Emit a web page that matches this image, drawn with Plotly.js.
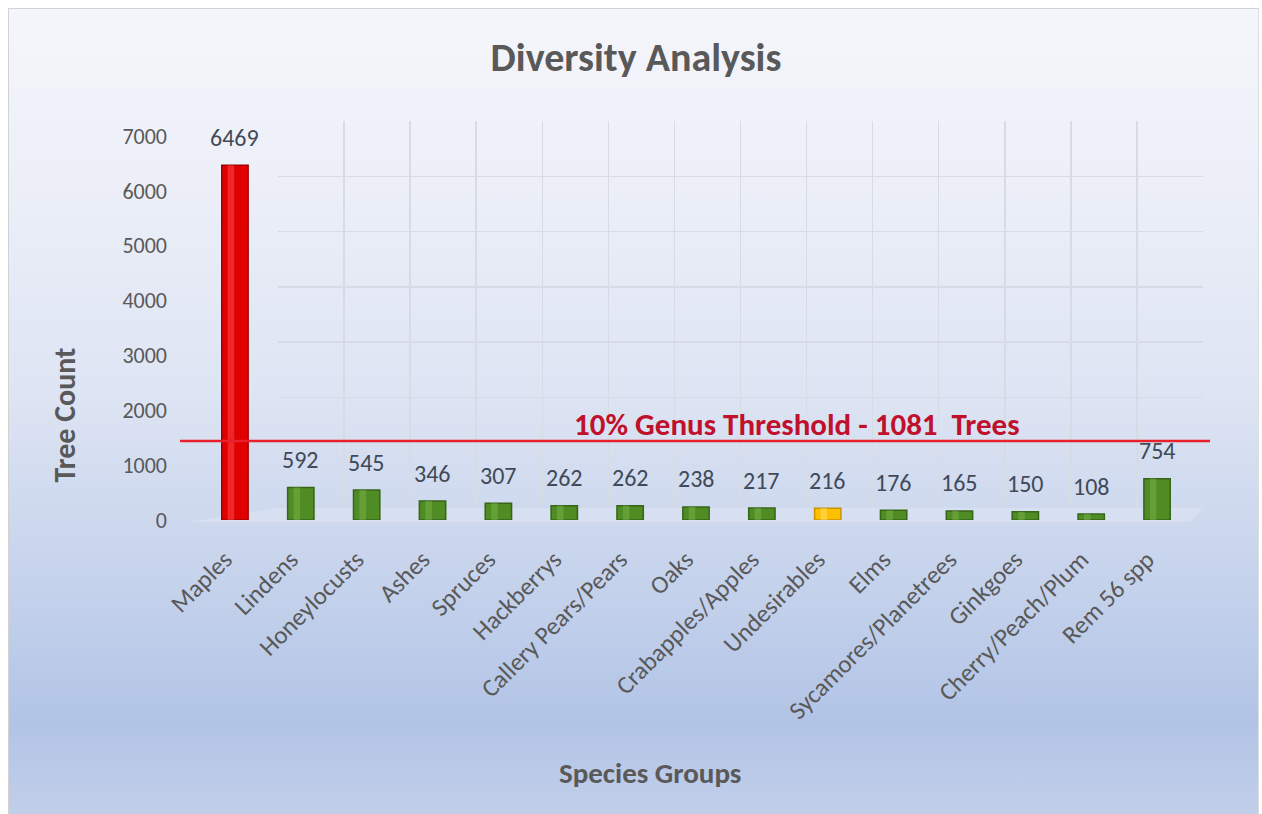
<!DOCTYPE html>
<html>
<head>
<meta charset="utf-8">
<script src="https://cdn.plot.ly/plotly-3.0.1.min.js"></script>
<style>
  html, body { margin: 0; padding: 0; background: #ffffff; width: 1262px; height: 814px; overflow: hidden; }
  #bg {
    position: absolute; left: 8px; top: 8px; width: 1249px; height: 810px;
    border-top: 1px solid #d2d2d2; border-left: 1px solid #d2d2d2; border-right: 1px solid #dcdcdc;
    background: linear-gradient(to bottom, #f5f6fb 0%, #eceff8 22%, #dde4f3 48%, #c6d3ec 70%, #b2c4e6 88%, #c2cfea 100%);
  }
  #chart { position: absolute; left: 0; top: 0; width: 1262px; height: 814px; }
</style>
</head>
<body>
<div id="bg"></div>
<div id="chart"></div>
<script>
// ---- data ----
const categories = ["Maples", "Lindens", "Honeylocusts", "Ashes", "Spruces", "Hackberrys",
  "Callery Pears/Pears", "Oaks", "Crabapples/Apples", "Undesirables", "Elms",
  "Sycamores/Planetrees", "Ginkgoes", "Cherry/Peach/Plum", "Rem 56 spp"];
const treeCounts = [6469, 592, 545, 346, 307, 262, 262, 238, 217, 216, 176, 165, 150, 108, 754];
const thresholdTrees = 1081;
const yTicks = [0, 1000, 2000, 3000, 4000, 5000, 6000, 7000];

// ---- styles ----
const W = 1262, H = 814;
const FONT = "Carlito, Calibri, Lato, 'DejaVu Sans', sans-serif";
const specialColors = {
  "Maples": ["#e00000", "#a00000", "#ff4a4a"],
  "Undesirables": ["#ffc000", "#c99400", "#ffe070"]
};
const defaultColor = ["#4f8c24", "#386418", "#79b448"];
const pick = (c, k) => (specialColors[c] || defaultColor)[k];
const fillColors = categories.map(c => pick(c, 0));
const edgeColors = categories.map(c => pick(c, 1));
const shineColors = categories.map(c => pick(c, 2));
const thresholdLineLevel = 1440; // drawn position of the threshold line (3-D wall offset)

const traces = [
  { type: "scatter", x: [], y: [], xaxis: "x", yaxis: "y", hoverinfo: "skip", showlegend: false },
  {
    type: "bar", x: categories, y: treeCounts, xaxis: "x2", yaxis: "y2",
    width: 0.4,
    marker: { color: fillColors, line: { color: edgeColors, width: 1.5 } },
    hoverinfo: "x+y", showlegend: false
  },
  {
    type: "bar", x: categories, y: treeCounts, xaxis: "x2", yaxis: "y2",
    width: 0.1, offset: -0.11,
    marker: { color: shineColors, opacity: 0.5, line: { width: 0 } },
    hoverinfo: "skip", showlegend: false
  }
];

const labelAnnotations = categories.map((c, i) => ({
  xref: "x2", yref: "y2", x: c, y: treeCounts[i], text: String(treeCounts[i]),
  showarrow: false, yanchor: "middle", yshift: 28,
  font: { family: FONT, size: 24, color: "#404a58" }
}));

const layout = {
  width: W, height: H, autosize: false,
  margin: { l: 0, r: 0, t: 0, b: 0, pad: 0 },
  paper_bgcolor: "rgba(0,0,0,0)", plot_bgcolor: "rgba(0,0,0,0)",
  font: { family: FONT, color: "#595959" },
  barmode: "overlay",
  title: {
    text: "<b>Diversity Analysis</b>", x: 636 / W, y: 1 - 57 / H, xanchor: "center", yanchor: "middle",
    xref: "paper", yref: "paper",
    font: { family: FONT, size: 40, color: "#595959" }
  },
  // back wall grid
  xaxis: {
    domain: [278 / W, 1203 / W], anchor: "y", type: "linear", range: [0, 14],
    tickvals: [0,1,2,3,4,5,6,7,8,9,10,11,12,13,14], showticklabels: false, ticks: "",
    showgrid: true, gridcolor: "#d6dbe4", gridwidth: 1.5, zeroline: false, showline: false, fixedrange: true
  },
  yaxis: {
    domain: [1 - 508 / H, 1 - 121 / H], anchor: "x", range: [0, 7000], tickvals: yTicks,
    showticklabels: false, ticks: "", showgrid: true, gridcolor: "#d6dbe4", gridwidth: 1.5,
    zeroline: false, showline: false, fixedrange: true
  },
  // bars
  xaxis2: {
    domain: [202 / W, 1190 / W], anchor: "y2", type: "category",
    tickangle: -45, ticks: "", ticklabelstandoff: 19, ticklabelshift: -10,
    tickfont: { family: FONT, size: 25, color: "#595959" },
    showgrid: false, zeroline: false, showline: false, fixedrange: true
  },
  yaxis2: {
    domain: [1 - 520 / H, 1 - 136 / H], anchor: "x2", range: [0, 7000], tickvals: yTicks,
    ticks: "", ticklabelstandoff: 34, tickfont: { family: FONT, size: 22, color: "#595959" },
    showgrid: false, zeroline: false, showline: false, fixedrange: true
  },
  shapes: [
    {
      type: "path", xref: "paper", yref: "paper", layer: "below",
      path: "M " + (278 / W) + " " + (1 - 508 / H) + " L " + (1203 / W) + " " + (1 - 508 / H) +
            " L " + (1190 / W) + " " + (1 - 522 / H) + " L " + (188 / W) + " " + (1 - 522 / H) + " Z",
      fillcolor: "rgba(255,255,255,0.2)", line: { width: 0 }
    },
    {
      type: "line", xref: "paper", yref: "y2", x0: 180 / W, x1: 1210 / W,
      y0: thresholdLineLevel, y1: thresholdLineLevel,
      line: { color: "#e8202a", width: 2.5 }
    }
  ],
  annotations: labelAnnotations.concat([
    {
      xref: "paper", yref: "y2", x: 797 / W, y: thresholdLineLevel, yanchor: "bottom", xanchor: "center",
      text: "<b>10% Genus Threshold - " + thresholdTrees + "  Trees</b>", showarrow: false, yshift: -4,
      font: { family: FONT, size: 31, color: "#c0102c" }
    },
    {
      xref: "paper", yref: "paper", x: 43 / W, y: 1 - 415 / H, textangle: -90, showarrow: false,
      text: "<b>Tree Count</b>", font: { family: FONT, size: 30, color: "#595959" }
    },
    {
      xref: "paper", yref: "paper", x: 650 / W, y: 1 - 793 / H, showarrow: false,
      text: "<b>Species Groups</b>", font: { family: FONT, size: 29, color: "#595959" }
    }
  ])
};

Plotly.newPlot("chart", traces, layout, { displayModeBar: false, staticPlot: true });
</script>
</body>
</html>
